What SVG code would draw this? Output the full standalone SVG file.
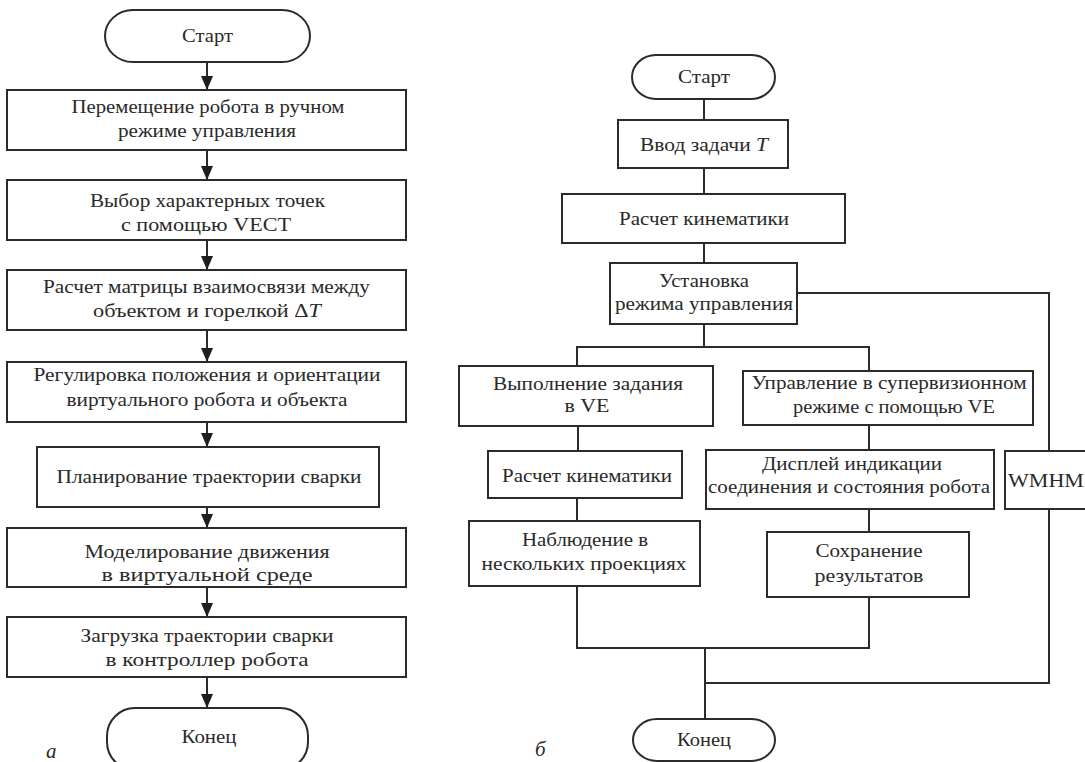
<svg xmlns="http://www.w3.org/2000/svg" width="1085" height="762" viewBox="0 0 1085 762">
<defs>
<style>
.box{fill:#fff;stroke:#2b2b2b;stroke-width:2}
.ln{fill:none;stroke:#2b2b2b;stroke-width:2}
.t{font-family:"Liberation Serif","Times New Roman",serif;font-size:19px;fill:#2a2a2a;text-anchor:middle}
.lbl{font-family:"Liberation Serif","Times New Roman",serif;font-size:21px;font-style:italic;fill:#2a2a2a}
.i{font-style:italic}
</style>
<marker id="arr" markerUnits="userSpaceOnUse" markerWidth="14" markerHeight="12" viewBox="0 0 14 12" refX="14" refY="6" orient="auto">
<path d="M0,0 L14,6 L0,12 z" fill="#1e1e1e"/>
</marker>
</defs>
<rect width="1085" height="762" fill="#fff"/>

<!-- Left flowchart (a) -->
<g id="connectors-a">
<line class="ln" x1="207" y1="62" x2="207" y2="90" marker-end="url(#arr)"/>
<line class="ln" x1="207" y1="150" x2="207" y2="180" marker-end="url(#arr)"/>
<line class="ln" x1="207" y1="240" x2="207" y2="270" marker-end="url(#arr)"/>
<line class="ln" x1="207" y1="330" x2="207" y2="362" marker-end="url(#arr)"/>
<line class="ln" x1="207" y1="422" x2="207" y2="447" marker-end="url(#arr)"/>
<line class="ln" x1="207" y1="507" x2="207" y2="528" marker-end="url(#arr)"/>
<line class="ln" x1="207" y1="587" x2="207" y2="617" marker-end="url(#arr)"/>
<line class="ln" x1="207" y1="677" x2="207" y2="708" marker-end="url(#arr)"/>
</g>
<g id="a-start"><rect class="box" x="105" y="10" width="205" height="52" rx="28" ry="26"/><text class="t" x="207.5" y="42" textLength="51" lengthAdjust="spacingAndGlyphs">Старт</text></g>
<g id="a-move"><rect class="box" x="7" y="90" width="399" height="60"/>
<text class="t" x="208" y="113" textLength="273" lengthAdjust="spacingAndGlyphs">Перемещение робота в ручном</text>
<text class="t" x="207" y="137" textLength="178" lengthAdjust="spacingAndGlyphs">режиме управления</text></g>
<g id="a-select"><rect class="box" x="7" y="180" width="399" height="60"/>
<text class="t" x="207.5" y="207" textLength="235" lengthAdjust="spacingAndGlyphs">Выбор характерных точек</text>
<text class="t" x="206" y="231" textLength="170" lengthAdjust="spacingAndGlyphs">с помощью VECT</text></g>
<g id="a-matrix"><rect class="box" x="7" y="270" width="399" height="60"/>
<text class="t" x="206.5" y="293" textLength="327" lengthAdjust="spacingAndGlyphs">Расчет матрицы взаимосвязи между</text>
<text class="t" x="207" y="317" textLength="228" lengthAdjust="spacingAndGlyphs">объектом и горелкой Δ<tspan class="i">T</tspan></text></g>
<g id="a-adjust"><rect class="box" x="7" y="362" width="399" height="60"/>
<text class="t" x="207" y="381" textLength="347" lengthAdjust="spacingAndGlyphs">Регулировка положения и ориентации</text>
<text class="t" x="207" y="406" textLength="281" lengthAdjust="spacingAndGlyphs">виртуального робота и объекта</text></g>
<g id="a-plan"><rect class="box" x="37" y="447" width="342" height="60"/>
<text class="t" x="209" y="483" textLength="305" lengthAdjust="spacingAndGlyphs">Планирование траектории сварки</text></g>
<g id="a-sim"><rect class="box" x="7" y="528" width="399" height="59"/>
<text class="t" x="207" y="558" textLength="245" lengthAdjust="spacingAndGlyphs">Моделирование движения</text>
<text class="t" x="207" y="581" textLength="211" lengthAdjust="spacingAndGlyphs">в виртуальной среде</text></g>
<g id="a-load"><rect class="box" x="7" y="617" width="399" height="60"/>
<text class="t" x="207" y="642" textLength="253" lengthAdjust="spacingAndGlyphs">Загрузка траектории сварки</text>
<text class="t" x="207" y="666" textLength="203" lengthAdjust="spacingAndGlyphs">в контроллер робота</text></g>
<g id="a-end"><rect class="box" x="107" y="708" width="201" height="62" rx="28" ry="28"/>
<text class="t" x="209" y="743" textLength="55" lengthAdjust="spacingAndGlyphs">Конец</text></g>
<text class="lbl" x="46" y="758">а</text>

<!-- Right flowchart (б) -->
<g id="connectors-b">
<polyline class="ln" points="704,99 704,120"/>
<polyline class="ln" points="704,168 704,194"/>
<polyline class="ln" points="704,243 704,263"/>
<polyline class="ln" points="797,293 1049,293 1049,451"/>
<polyline class="ln" points="704,324 704,347"/>
<polyline class="ln" points="577,366 577,347 869,347 869,371"/>
<polyline class="ln" points="578,426 578,451"/>
<polyline class="ln" points="577,498 577,521"/>
<polyline class="ln" points="869,425 869,450"/>
<polyline class="ln" points="869,509 869,532"/>
<polyline class="ln" points="577,586 577,648 869,648 869,597"/>
<polyline class="ln" points="705,648 705,719"/>
<polyline class="ln" points="1049,509 1049,683 705,683"/>
</g>
<g id="b-start"><rect class="box" x="632" y="55" width="143" height="44" rx="24" ry="22"/>
<text class="t" x="704" y="83" textLength="52" lengthAdjust="spacingAndGlyphs">Старт</text></g>
<g id="b-input"><rect class="box" x="618" y="120" width="170" height="48"/>
<text class="t" x="704" y="151" textLength="128" lengthAdjust="spacingAndGlyphs">Ввод задачи <tspan class="i">T</tspan></text></g>
<g id="b-kin"><rect class="box" x="562" y="194" width="283" height="49"/>
<text class="t" x="704" y="225" textLength="170" lengthAdjust="spacingAndGlyphs">Расчет кинематики</text></g>
<g id="b-mode"><rect class="box" x="610" y="263" width="187" height="61"/>
<text class="t" x="704" y="287" textLength="90" lengthAdjust="spacingAndGlyphs">Установка</text>
<text class="t" x="704" y="310" textLength="178" lengthAdjust="spacingAndGlyphs">режима управления</text></g>
<g id="b-exec"><rect class="box" x="459" y="366" width="254" height="60"/>
<text class="t" x="588" y="390" textLength="190" lengthAdjust="spacingAndGlyphs">Выполнение задания</text>
<text class="t" x="587" y="412" textLength="45" lengthAdjust="spacingAndGlyphs">в VE</text></g>
<g id="b-kin2"><rect class="box" x="488" y="451" width="194" height="47"/>
<text class="t" x="587" y="482" textLength="170" lengthAdjust="spacingAndGlyphs">Расчет кинематики</text></g>
<g id="b-observe"><rect class="box" x="469" y="521" width="231" height="65"/>
<text class="t" x="585" y="546" textLength="126" lengthAdjust="spacingAndGlyphs">Наблюдение в</text>
<text class="t" x="584" y="570" textLength="205" lengthAdjust="spacingAndGlyphs">нескольких проекциях</text></g>
<g id="b-super"><rect class="box" x="743" y="371" width="290" height="54"/>
<text class="t" x="889" y="389" textLength="275" lengthAdjust="spacingAndGlyphs">Управление в супервизионном</text>
<text class="t" x="894" y="413" textLength="202" lengthAdjust="spacingAndGlyphs">режиме с помощью VE</text></g>
<g id="b-display"><rect class="box" x="706" y="450" width="288" height="59"/>
<text class="t" x="852" y="470" textLength="180" lengthAdjust="spacingAndGlyphs">Дисплей индикации</text>
<text class="t" x="849" y="493" textLength="282" lengthAdjust="spacingAndGlyphs">соединения и состояния робота</text></g>
<g id="b-save"><rect class="box" x="767" y="532" width="202" height="65"/>
<text class="t" x="869" y="557" textLength="107" lengthAdjust="spacingAndGlyphs">Сохранение</text>
<text class="t" x="869" y="582" textLength="109" lengthAdjust="spacingAndGlyphs">результатов</text></g>
<g id="b-wmhm"><rect class="box" x="1005" y="451" width="90" height="58"/>
<text class="t" x="1046" y="487" textLength="76" lengthAdjust="spacingAndGlyphs">WMHM</text></g>
<g id="b-end"><rect class="box" x="633" y="719" width="142" height="42" rx="24" ry="21"/>
<text class="t" x="704" y="746" textLength="54" lengthAdjust="spacingAndGlyphs">Конец</text></g>
<text class="lbl" x="535" y="756">б</text>
</svg>
